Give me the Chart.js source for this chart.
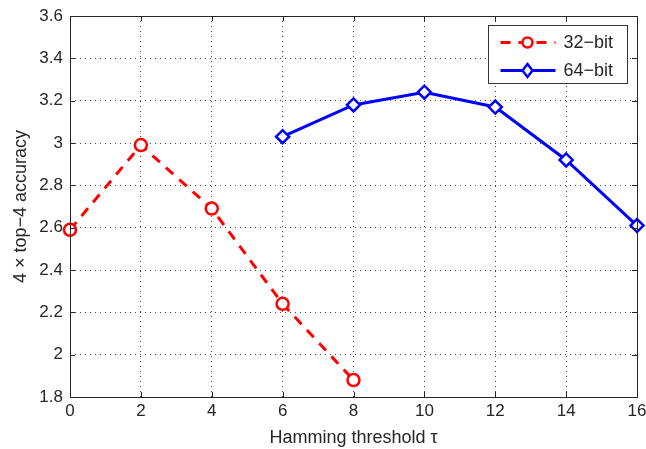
<!DOCTYPE html>
<html>
<head>
<meta charset="utf-8">
<script src="https://cdn.jsdelivr.net/npm/chart.js@4"></script>
<style>
  html, body { margin: 0; padding: 0; background: #fff; }
  #wrap { width: 646px; height: 449px; }
</style>
</head>
<body>
<div id="wrap"><canvas id="accChart" width="646" height="449"></canvas></div>
<script>
// data
var thresholds32 = [0, 2, 4, 6, 8];
var acc32 = [2.59, 2.99, 2.69, 2.24, 1.88];
var thresholds64 = [6, 8, 10, 12, 14, 16];
var acc64 = [3.03, 3.18, 3.24, 3.17, 2.92, 2.61];
var seriesNames = ['32\u2212bit', '64\u2212bit'];

var inkColor = '#262626';
var fontFamily = '"Liberation Sans", Arial, Helvetica, sans-serif';

function toPoints(xs, ys) {
  return xs.map((x, i) => ({ x: x, y: ys[i] }));
}

// box frame, inward ticks and legend like the matlab figure
var matlabBox = {
  id: 'matlabBox',
  afterDatasetsDraw(chart) {
    var c = chart.ctx, a = chart.chartArea;
    var xs = chart.scales.x, ys = chart.scales.y;
    c.save();
    c.strokeStyle = inkColor;
    c.lineWidth = 1;
    c.beginPath();
    xs.ticks.forEach(t => {
      var px = Math.round(xs.getPixelForValue(t.value)) + 0.5;
      c.moveTo(px, a.bottom); c.lineTo(px, a.bottom - 5);
      c.moveTo(px, a.top); c.lineTo(px, a.top + 5);
    });
    ys.ticks.forEach(t => {
      var py = Math.round(ys.getPixelForValue(t.value)) + 0.5;
      c.moveTo(a.left, py); c.lineTo(a.left + 5, py);
      c.moveTo(a.right, py); c.lineTo(a.right - 5, py);
    });
    c.stroke();
    c.strokeRect(Math.round(a.left) + 0.5, Math.round(a.top) + 0.5,
      Math.round(a.right - a.left), Math.round(a.bottom - a.top));

    // legend
    var lx = 488.5, ly = 25.5, lw = 139, lh = 58;
    c.fillStyle = '#fff';
    c.fillRect(lx, ly, lw, lh);
    c.strokeStyle = '#333';
    c.strokeRect(lx, ly, lw, lh);
    chart.data.datasets.forEach((ds, i) => {
      var yy = ly + 17 + i * 28;
      c.strokeStyle = ds.borderColor;
      c.lineWidth = 3;
      c.setLineDash(ds.borderDash || []);
      c.beginPath();
      c.moveTo(lx + 12, yy); c.lineTo(lx + 67, yy);
      c.stroke();
      c.setLineDash([]);
      c.lineWidth = 2.5;
      c.beginPath();
      if (ds.pointStyle === 'rectRot') {
        c.moveTo(lx + 39, yy - 6.5); c.lineTo(lx + 44, yy);
        c.lineTo(lx + 39, yy + 6.5); c.lineTo(lx + 34, yy); c.closePath();
      } else {
        c.arc(lx + 39, yy, 5, 0, Math.PI * 2);
      }
      c.fillStyle = '#fff';
      c.fill();
      c.stroke();
      c.fillStyle = inkColor;
      c.font = '18px ' + fontFamily;
      c.textBaseline = 'middle';
      c.fillText(ds.label, lx + 75, yy + 1);
    });
    c.restore();
  }
};

var ctx = document.getElementById('accChart').getContext('2d');
var accChart = new Chart(ctx, {
  type: 'line',
  data: {
    datasets: [{
      label: seriesNames[0],
      data: toPoints(thresholds32, acc32),
      borderColor: '#ff0000',
      backgroundColor: '#ffffff',
      borderWidth: 3,
      borderDash: [10, 8],
      pointStyle: 'circle',
      pointRadius: 6,
      pointBorderWidth: 2.5,
      clip: false
    }, {
      label: seriesNames[1],
      data: toPoints(thresholds64, acc64),
      borderColor: '#0000ff',
      backgroundColor: '#ffffff',
      borderWidth: 3,
      pointStyle: 'rectRot',
      pointRadius: 6.5,
      pointBorderWidth: 2.5,
      clip: false
    }]
  },
  options: {
    responsive: false,
    animation: false,
    layout: { padding: { top: 16, right: 0, left: 0, bottom: 0 } },
    plugins: { legend: { display: false }, tooltip: { enabled: false } },
    scales: {
      x: {
        type: 'linear', min: 0, max: 16,
        ticks: { stepSize: 2, color: inkColor, font: { size: 17, family: fontFamily }, padding: 4, maxRotation: 0 },
        grid: { color: '#444', drawTicks: false, lineWidth: 1 },
        border: { display: false, dash: [1, 4] },
        title: { display: true, text: 'Hamming threshold \u03c4', color: inkColor, font: { size: 18, family: fontFamily }, padding: { top: 0, bottom: 0 } },
        afterFit(s) { s.height = 52; s.paddingRight = 9; s.paddingLeft = 0; }
      },
      y: {
        min: 1.8, max: 3.6,
        ticks: {
          stepSize: 0.2, color: inkColor, font: { size: 17, family: fontFamily }, padding: 7,
          callback: v => String(Number(v.toFixed(1)))
        },
        grid: { color: '#444', drawTicks: false, lineWidth: 1 },
        border: { display: false, dash: [1, 4] },
        title: { display: true, text: '4 \u00d7 top\u22124 accuracy', color: inkColor, font: { size: 18, family: fontFamily }, padding: { top: 10, bottom: 0 } },
        afterFit(s) { s.width = 70; s.paddingTop = 0; s.paddingBottom = 0; }
      }
    }
  },
  plugins: [matlabBox]
});
</script>
</body>
</html>
